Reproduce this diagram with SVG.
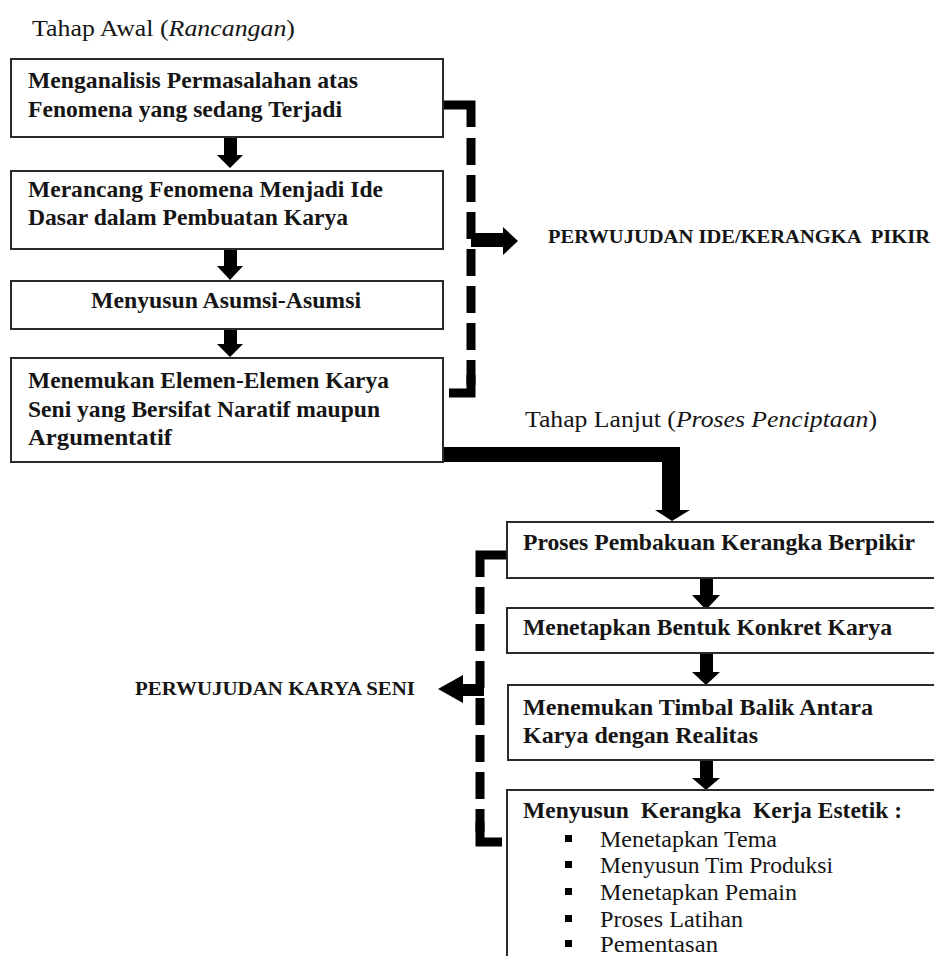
<svg xmlns="http://www.w3.org/2000/svg" width="934" height="956" viewBox="0 0 934 956">
<style>
.box{fill:#fff;stroke:#2a2a2a;stroke-width:2}
.b{font-weight:bold;font-size:22.5px;fill:#151515}
.r{font-size:24px;fill:#151515}
.li{font-size:23px;fill:#151515}
.lbl{font-weight:bold;font-size:18px;fill:#151515;white-space:pre}
.blk{fill:#000}
.dash{fill:none;stroke:#000;stroke-width:9;stroke-dasharray:27 10}
.solid{fill:none;stroke:#000;stroke-width:9}
</style>
<rect width="934" height="956" fill="#fff"/>
<g font-family="Liberation Serif, Times New Roman, Times, serif">
<text class="r" x="32" y="36" textLength="263" lengthAdjust="spacingAndGlyphs">Tahap Awal (<tspan font-style="italic">Rancangan</tspan>)</text>
<text class="r" x="525" y="427" textLength="352" lengthAdjust="spacingAndGlyphs">Tahap Lanjut (<tspan font-style="italic">Proses Penciptaan</tspan>)</text>

<g id="connectors">
  <path class="blk" d="M224,137 H237 V155 H243 L230,168 L217,155 H224 Z"/>
  <path class="blk" d="M224,249 H237 V266 H243 L230,280 L217,266 H224 Z"/>
  <path class="blk" d="M224,329 H237 V344 H243 L230,357 L217,344 H224 Z"/>
  <path class="solid" d="M443,105 H471 V127"/>
  <path class="dash" d="M471,138 V385"/>
  <path class="solid" d="M449,393 H471 V375"/>
  <path class="blk" d="M471,233 H503 V227 L518,241 L503,255 V247 H471 Z"/>
  <path class="blk" d="M443,447 H680 V510 H690 L672,521 L655,510 H662 V462 H443 Z"/>
  <path class="blk" d="M700,579 H713 V595 H720 L706,610 L692,595 H700 Z"/>
  <path class="blk" d="M700,654 H713 V672 H720 L706,685 L692,672 H700 Z"/>
  <path class="blk" d="M700,761 H713 V778 H720 L706,790 L692,778 H700 Z"/>
  <path class="solid" d="M507,555 H480 V577"/>
  <path class="dash" d="M480,587 V832"/>
  <path class="solid" d="M502,842 H480 V822"/>
  <path class="blk" d="M484,684 H463 V675 L438,689 L463,703 V696 H484 Z"/>
</g>

<g id="label-ide">
  <text class="lbl" x="548" y="243" textLength="382" lengthAdjust="spacingAndGlyphs">PERWUJUDAN IDE/KERANGKA  PIKIR</text>
</g>
<g id="label-karya">
  <text class="lbl" x="135" y="695" textLength="280" lengthAdjust="spacingAndGlyphs">PERWUJUDAN KARYA SENI</text>
</g>

<g id="node1">
  <rect class="box" x="11" y="59" width="432" height="78"/>
  <text class="b" x="28" y="88" textLength="330" lengthAdjust="spacingAndGlyphs">Menganalisis Permasalahan atas</text>
  <text class="b" x="28" y="117" textLength="314" lengthAdjust="spacingAndGlyphs">Fenomena yang sedang Terjadi</text>
</g>
<g id="node2">
  <rect class="box" x="11" y="171" width="432" height="78"/>
  <text class="b" x="28" y="197" textLength="355" lengthAdjust="spacingAndGlyphs">Merancang Fenomena Menjadi Ide</text>
  <text class="b" x="28" y="225" textLength="320" lengthAdjust="spacingAndGlyphs">Dasar dalam Pembuatan Karya</text>
</g>
<g id="node3">
  <rect class="box" x="11" y="281" width="432" height="48"/>
  <text class="b" x="91" y="308" textLength="270" lengthAdjust="spacingAndGlyphs">Menyusun Asumsi-Asumsi</text>
</g>
<g id="node4">
  <rect class="box" x="11" y="358" width="432" height="104"/>
  <text class="b" x="28" y="388" textLength="361" lengthAdjust="spacingAndGlyphs">Menemukan Elemen-Elemen Karya</text>
  <text class="b" x="28" y="417" textLength="352" lengthAdjust="spacingAndGlyphs">Seni yang Bersifat Naratif maupun</text>
  <text class="b" x="28" y="445" textLength="144" lengthAdjust="spacingAndGlyphs">Argumentatif</text>
</g>

<g id="node5">
  <rect class="box" x="507" y="522" width="440" height="56"/>
  <text class="b" x="523" y="550" textLength="392" lengthAdjust="spacingAndGlyphs">Proses Pembakuan Kerangka Berpikir</text>
</g>
<g id="node6">
  <rect class="box" x="507" y="608" width="440" height="45"/>
  <text class="b" x="523" y="635" textLength="369" lengthAdjust="spacingAndGlyphs">Menetapkan Bentuk Konkret Karya</text>
</g>
<g id="node7">
  <rect class="box" x="508" y="685" width="440" height="75"/>
  <text class="b" x="523" y="715" textLength="350" lengthAdjust="spacingAndGlyphs">Menemukan Timbal Balik Antara</text>
  <text class="b" x="523" y="743" textLength="235" lengthAdjust="spacingAndGlyphs">Karya dengan Realitas</text>
</g>
<g id="node8">
  <rect class="box" x="507" y="790" width="440" height="180"/>
  <text class="b" x="523" y="818" textLength="379" lengthAdjust="spacingAndGlyphs" style="white-space:pre">Menyusun  Kerangka  Kerja Estetik :</text>
  <rect class="blk" x="565" y="835" width="7" height="7"/>
  <rect class="blk" x="565" y="861" width="7" height="7"/>
  <rect class="blk" x="565" y="888" width="7" height="7"/>
  <rect class="blk" x="565" y="915" width="7" height="7"/>
  <rect class="blk" x="565" y="940" width="7" height="7"/>
  <text class="li" x="600" y="847" textLength="177" lengthAdjust="spacingAndGlyphs">Menetapkan Tema</text>
  <text class="li" x="600" y="873" textLength="233" lengthAdjust="spacingAndGlyphs">Menyusun Tim Produksi</text>
  <text class="li" x="600" y="900" textLength="197" lengthAdjust="spacingAndGlyphs">Menetapkan Pemain</text>
  <text class="li" x="600" y="927" textLength="143" lengthAdjust="spacingAndGlyphs">Proses Latihan</text>
  <text class="li" x="600" y="952" textLength="118" lengthAdjust="spacingAndGlyphs">Pementasan</text>
</g>
</g>
</svg>
